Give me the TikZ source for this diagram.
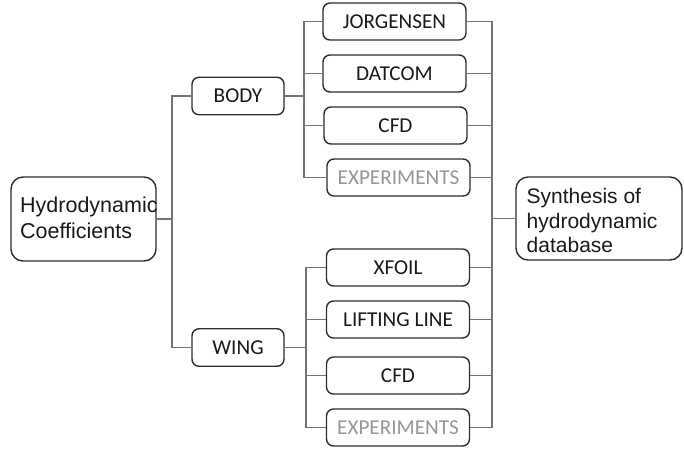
\documentclass[tikz,border=0pt]{standalone}
\usepackage{fontspec}
\setmainfont{Liberation Sans}
\newfontfamily\calib{Carlito}
\definecolor{boxc}{RGB}{45,45,45}
\definecolor{connc}{RGB}{115,115,115}
\definecolor{txt}{RGB}{25,25,25}
\definecolor{grayt}{RGB}{150,150,150}
\begin{document}
\begin{tikzpicture}[x=1pt,y=-1pt,
  box/.style={draw=boxc, line width=1.4pt, rounded corners=7pt, minimum width=143pt, minimum height=37pt, inner sep=0pt,
    font=\calib\fontsize{21.2}{25}\selectfont, text=txt, text height=13.4pt, text depth=0pt},
  smallbox/.style={box, minimum width=92pt, minimum height=37.5pt},
  bigbox/.style={draw=boxc, line width=1.4pt, rounded corners=12pt, inner sep=0pt},
  bigtext/.style={anchor=north west, inner sep=0pt, align=left, text=txt, font=\fontsize{21.5}{25.5}\selectfont},
  conn/.style={draw=connc, line width=1.25pt},
  graytext/.style={text=grayt}]
\useasboundingbox (0,0) rectangle (684,448);
% left box
\node[bigbox, minimum width=145pt, minimum height=84pt] (hc) at (83.5,219) {};
\node[bigtext] (hct) at (20,197) {Hydrodynamic\\Coefficients};
% right box
\node[bigbox, minimum width=166pt, minimum height=83pt] (syn) at (599,218.5) {};
\node[bigtext, font=\fontsize{21}{24.6}\selectfont] (synt) at (526.5,188) {Synthesis of\\hydrodynamic\\database};
% second level
\node[smallbox] (body) at (238,96) {BODY};
\node[smallbox] (wing) at (238,347.5) {WING};
% body group
\node[box] (jor) at (394.5,21.5) {JORGENSEN};
\node[box] (dat) at (394.5,73.5) {DATCOM};
\node[box] (cfda) at (395.5,125.5) {CFD};
\node[box, graytext] (expa) at (398.5,177.5) {EXPERIMENTS};
% wing group
\node[box] (xfoil) at (398,267.5) {XFOIL};
\node[box] (lift) at (398,319.5) {LIFTING LINE};
\node[box] (cfdb) at (398,375.5) {CFD};
\node[box, graytext] (expb) at (398,427.5) {EXPERIMENTS};
% trunks
\coordinate (lt) at (172,0);
\coordinate (bt) at (304,0);
\coordinate (wt) at (306,0);
\coordinate (rt) at (492,0);
% left connectors
\draw[conn] (hc.east) -- (hc.east -| lt);
\draw[conn] (body.west) -- (body.west -| lt) -- (wing.west -| lt) -- (wing.west);
% body connectors
\draw[conn] (body.east) -- (body.east -| bt);
\draw[conn] (jor.west) -- (jor.west -| bt) -- (expa.west -| bt) -- (expa.west);
\draw[conn] (dat.west) -- (dat.west -| bt);
\draw[conn] (cfda.west) -- (cfda.west -| bt);
% wing connectors
\draw[conn] (wing.east) -- (wing.east -| wt);
\draw[conn] (xfoil.west) -- (xfoil.west -| wt) -- (expb.west -| wt) -- (expb.west);
\draw[conn] (lift.west) -- (lift.west -| wt);
\draw[conn] (cfdb.west) -- (cfdb.west -| wt);
% right connectors
\draw[conn] (jor.east) -- (jor.east -| rt) -- (expb.east -| rt) -- (expb.east);
\draw[conn] (dat.east) -- (dat.east -| rt);
\draw[conn] (cfda.east) -- (cfda.east -| rt);
\draw[conn] (expa.east) -- (expa.east -| rt);
\draw[conn] (xfoil.east) -- (xfoil.east -| rt);
\draw[conn] (lift.east) -- (lift.east -| rt);
\draw[conn] (cfdb.east) -- (cfdb.east -| rt);
\draw[conn] (syn.west) -- (syn.west -| rt);
\end{tikzpicture}
\end{document}
